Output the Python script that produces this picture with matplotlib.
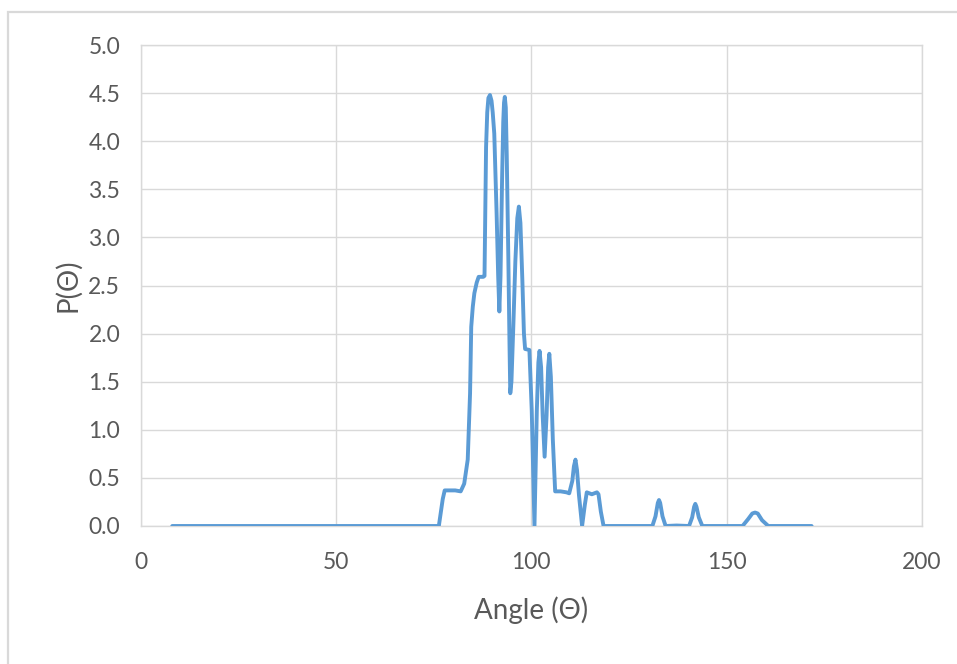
import matplotlib
matplotlib.use("Agg")
import matplotlib.pyplot as plt
from matplotlib.patches import Rectangle

# Scattering distribution P(Θ) versus angle
angle = [8.0, 76.3, 77.3, 77.8, 79.5, 80.5, 81.9, 82.8, 83.7, 84.3, 84.6, 85.0,
         85.4, 86.0, 86.5, 87.7, 88.0, 88.4, 88.7, 89.0, 89.4, 89.8, 90.1, 90.5,
         91.1, 91.5, 91.8, 92.1, 92.5, 92.8, 93.0, 93.2, 93.45, 93.7, 94.1, 94.4,
         94.6, 94.9, 95.4, 95.9, 96.4, 96.8, 97.2, 97.7, 98.1, 98.4, 99.5, 100.1,
         100.8, 101.4, 101.8, 102.1, 102.5, 102.9, 103.4, 103.9, 104.3, 104.6,
         105.0, 105.5, 106.1, 107.5, 109.0, 109.7, 110.5, 110.9, 111.3, 111.7,
         112.2, 113.0, 113.7, 114.2, 115.5, 116.8, 117.2, 117.8, 118.5, 125.0,
         131.0, 131.8, 132.4, 132.7, 133.0, 133.6, 134.4, 137.2, 140.4, 141.2,
         141.7, 142.0, 142.3, 142.9, 143.8, 150.0, 154.1, 155.5, 156.6, 157.3,
         158.0, 159.1, 160.7, 165.0, 171.8]
prob = [0.0, 0.0, 0.28, 0.37, 0.37, 0.37, 0.36, 0.44, 0.69, 1.38, 2.07, 2.28,
        2.42, 2.53, 2.59, 2.59, 2.60, 3.94, 4.30, 4.45, 4.48, 4.42, 4.30, 4.08,
        3.25, 2.60, 2.23, 2.60, 3.60, 4.20, 4.40, 4.46, 4.35, 3.85, 2.80, 1.90,
        1.38, 1.50, 2.10, 2.75, 3.20, 3.32, 3.15, 2.55, 2.00, 1.84, 1.83, 1.20,
        0.0, 1.20, 1.70, 1.82, 1.65, 1.15, 0.72, 1.15, 1.65, 1.79,
        1.55, 0.90, 0.36, 0.36, 0.35, 0.34, 0.47, 0.62, 0.69, 0.58,
        0.32, 0.0, 0.22, 0.35, 0.33, 0.35, 0.33, 0.15, 0.0, 0.0,
        0.0, 0.10, 0.24, 0.27, 0.24, 0.10, 0.0, 0.005, 0.0, 0.09,
        0.20, 0.23, 0.20, 0.09, 0.0, 0.0, 0.0, 0.07, 0.13, 0.14,
        0.13, 0.06, 0.0, 0.0, 0.0]

x_ticks = [0, 50, 100, 150, 200]
y_ticks = [0.0, 0.5, 1.0, 1.5, 2.0, 2.5, 3.0, 3.5, 4.0, 4.5, 5.0]

plt.rcParams['font.family'] = ['Lato', 'DejaVu Sans']

W, H = 957, 664
fig = plt.figure(figsize=(W / 100, H / 100), dpi=100)
fig.patch.set_facecolor('white')

# light chart-area border
fig.patches.append(Rectangle((8 / W, -0.1), 1.2, 1 - 12 / H + 0.1,
                             transform=fig.transFigure, fill=False,
                             edgecolor='#D9D9D9', linewidth=1.6))

ax = fig.add_axes([141 / W, (H - 526) / H, (921.7 - 141) / W, (526 - 45) / H])

ax.plot(angle, prob, color='#5B9BD5', linewidth=2.8,
        solid_joinstyle='round', solid_capstyle='round', zorder=3)

ax.set_xlim(0, 200)
ax.set_ylim(0, 5.0)
ax.set_xticks(x_ticks)
ax.set_xticklabels([str(v) for v in x_ticks])
ax.set_yticks(y_ticks)
ax.set_yticklabels([f"{v:.1f}" for v in y_ticks])

ax.grid(True, color='#D9D9D9', linewidth=1.0, zorder=0)
ax.set_axisbelow(True)
for s in ax.spines.values():
    s.set_color('#D9D9D9')
    s.set_linewidth(1.0)

ax.tick_params(axis='both', length=0, labelsize=16.5, labelcolor='#595959')
ax.tick_params(axis='x', pad=19)
ax.tick_params(axis='y', pad=15)

ax.set_xlabel('Angle (Θ)', fontsize=20, color='#595959')
ax.set_ylabel('P(Θ)', fontsize=20, color='#595959')
ax.xaxis.set_label_coords(0.5, -0.147)
ax.yaxis.set_label_coords(-0.077, 0.5)

fig.savefig('out.png', dpi=100)
